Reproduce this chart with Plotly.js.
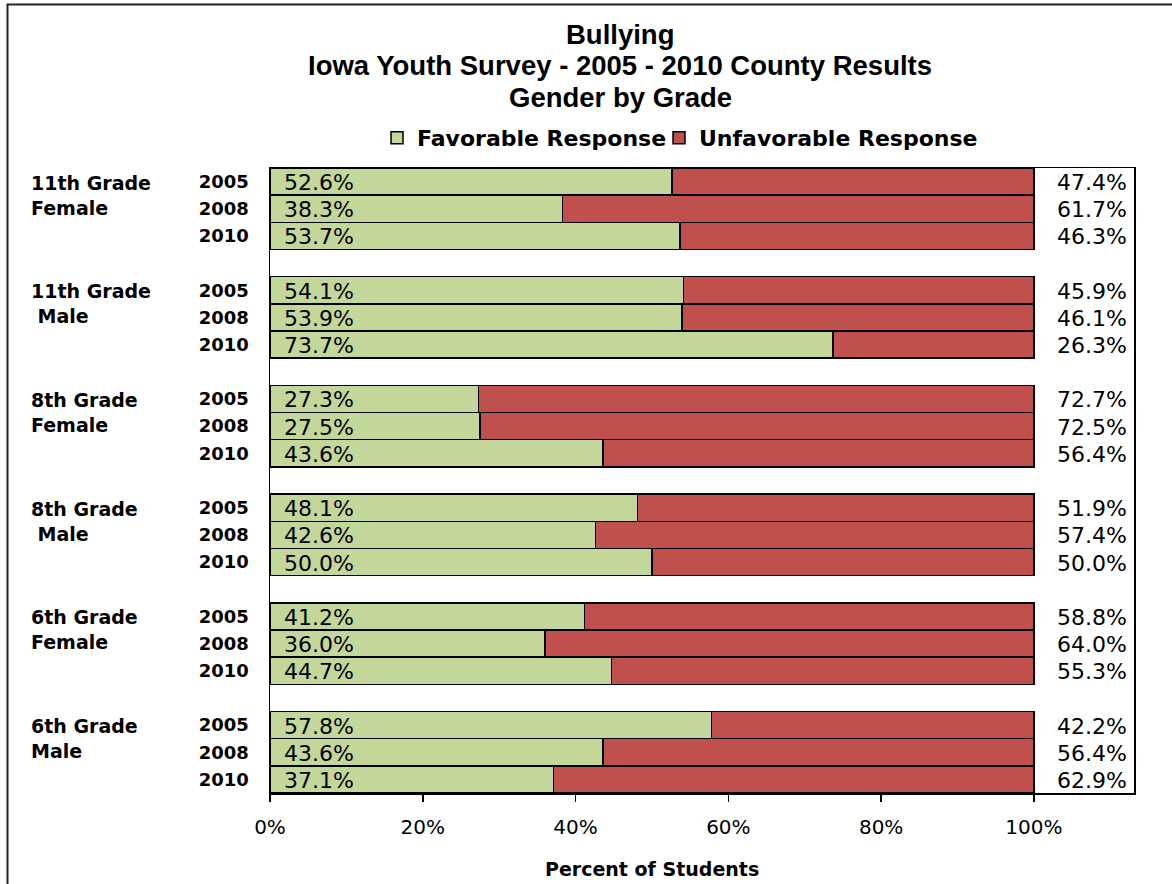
<!DOCTYPE html>
<html>
<head>
<meta charset="utf-8">
<script src="https://cdn.plot.ly/plotly-3.0.1.min.js"></script>
<style>html,body{margin:0;padding:0;background:#fff;}#chart{width:1172px;height:884px;}</style>
</head>
<body>
<div id="chart"></div>
<script>
const titleLines = ["Bullying", "Iowa Youth Survey - 2005 - 2010 County Results", "Gender by Grade"];
const groupLabels = ["11th Grade<br>Female", "11th Grade<br>&nbsp;Male", "8th Grade<br>Female", "8th Grade<br>&nbsp;Male", "6th Grade<br>Female", "6th Grade<br>Male"];
const years = ["2005", "2008", "2010"];
const favorable = [
  [52.6, 38.3, 53.7],
  [54.1, 53.9, 73.7],
  [27.3, 27.5, 43.6],
  [48.1, 42.6, 50.0],
  [41.2, 36.0, 44.7],
  [57.8, 43.6, 37.1]
];
const unfavorable = [
  [47.4, 61.7, 46.3],
  [45.9, 46.1, 26.3],
  [72.7, 72.5, 56.4],
  [51.9, 57.4, 50.0],
  [58.8, 64.0, 55.3],
  [42.2, 56.4, 62.9]
];
const seriesNames = ["Favorable Response", "Unfavorable Response"];
const xTicks = [0, 20, 40, 60, 80, 100];
const xTickText = ["0%", "20%", "40%", "60%", "80%", "100%"];
const axisTitle = "Percent of Students";

const DV = "DejaVu Sans, Verdana, sans-serif";
const LIB = "Liberation Sans, Arial, sans-serif";
// plot area in pixels: left 270, right 1134, top 168, bottom 793
const PL = 270, PW = 864, PB = 793, PH = 625;
const px2x = p => (p - PL) / PW;
const px2y = p => (PB - p) / PH;

const pos = [], fav = [], unf = [], tickText = [];
groupLabels.forEach((g, gi) => {
  years.forEach((yr, yi) => {
    pos.push(gi * 4 + yi);
    fav.push(favorable[gi][yi]);
    unf.push(unfavorable[gi][yi]);
    tickText.push(yr);
  });
});

const traces = [
  {type: "bar", orientation: "h", name: seriesNames[0], x: fav, y: pos, legend: "legend",
   marker: {color: "#C4D79B", line: {color: "#000", width: 1.5}}, hoverinfo: "x"},
  {type: "bar", orientation: "h", name: seriesNames[1], x: unf, y: pos, legend: "legend2",
   marker: {color: "#C0504D", line: {color: "#000", width: 1.5}}, hoverinfo: "x"}
];

const annotations = [];
pos.forEach((p, i) => {
  annotations.push({x: 0, y: p, xref: "x", yref: "y", text: fav[i].toFixed(1) + "%",
    xanchor: "left", yanchor: "middle", xshift: 12, yshift: -1, showarrow: false,
    font: {family: DV, size: 22, color: "#000"}});
  annotations.push({x: 1, y: p, xref: "paper", yref: "y", text: unf[i].toFixed(1) + "%",
    xanchor: "right", yanchor: "middle", xshift: -5, yshift: -1, showarrow: false,
    font: {family: DV, size: 22, color: "#000"}});
});
groupLabels.forEach((g, gi) => {
  annotations.push({x: px2x(29), y: gi * 4 + 0.5, xref: "paper", yref: "y",
    text: "<b>" + g + "</b>", xanchor: "left", yanchor: "middle", align: "left",
    showarrow: false, font: {family: DV, size: 19, color: "#000"}});
});
const titleY = [35, 66, 97];
titleLines.forEach((t, i) => {
  annotations.push({x: px2x(620), y: px2y(titleY[i]), xref: "paper", yref: "paper",
    text: "<b>" + t + "</b>", xanchor: "center", yanchor: "middle", showarrow: false,
    font: {family: LIB, size: 27.5, color: "#000"}});
});
annotations.push({x: 50, y: px2y(869), xref: "x", yref: "paper",
  text: "<b>" + axisTitle + "</b>", xanchor: "center", yanchor: "middle",
  showarrow: false, font: {family: DV, size: 19, color: "#000"}});

const legendBase = {orientation: "h", xanchor: "left", y: px2y(138), yanchor: "middle",
  font: {family: DV, size: 22, color: "#000", weight: "bold"}, itemwidth: 30, bgcolor: "rgba(0,0,0,0)"};

const layout = {
  width: 1172, height: 884,
  margin: {l: 270, r: 38, t: 168, b: 91},
  paper_bgcolor: "#fff", plot_bgcolor: "#fff",
  font: {family: DV, color: "#000"},
  barmode: "stack", bargap: 0,
  showlegend: true,
  legend: Object.assign({}, legendBase, {x: px2x(377)}),
  legend2: Object.assign({}, legendBase, {x: px2x(659)}),
  xaxis: {range: [0, 113.1], tickvals: xTicks, ticktext: xTickText, ticks: "outside", ticklen: 7,
    tickcolor: "#000", tickwidth: 1.5, showgrid: false, zeroline: false, showline: true, linecolor: "#000",
    linewidth: 1.5, mirror: true, ticklabelstandoff: 8, tickfont: {family: DV, size: 20, color: "#000"}},
  yaxis: {range: [22.5, -0.5], tickvals: pos, ticktext: tickText, ticks: "", showgrid: false, zeroline: false,
    showline: true, linecolor: "#000", linewidth: 1.5, mirror: true, ticklabelstandoff: 16,
    tickfont: {family: DV, size: 18, color: "#000", weight: "bold"}},
  annotations: annotations,
  shapes: [{type: "rect", xref: "paper", yref: "paper",
    x0: px2x(7.5), x1: px2x(1220), y0: px2y(920), y1: px2y(4.5),
    line: {color: "#222", width: 2}, fillcolor: "rgba(0,0,0,0)", layer: "below"}]
};

Plotly.newPlot("chart", traces, layout, {displayModeBar: false, staticPlot: true});
</script>
</body>
</html>
